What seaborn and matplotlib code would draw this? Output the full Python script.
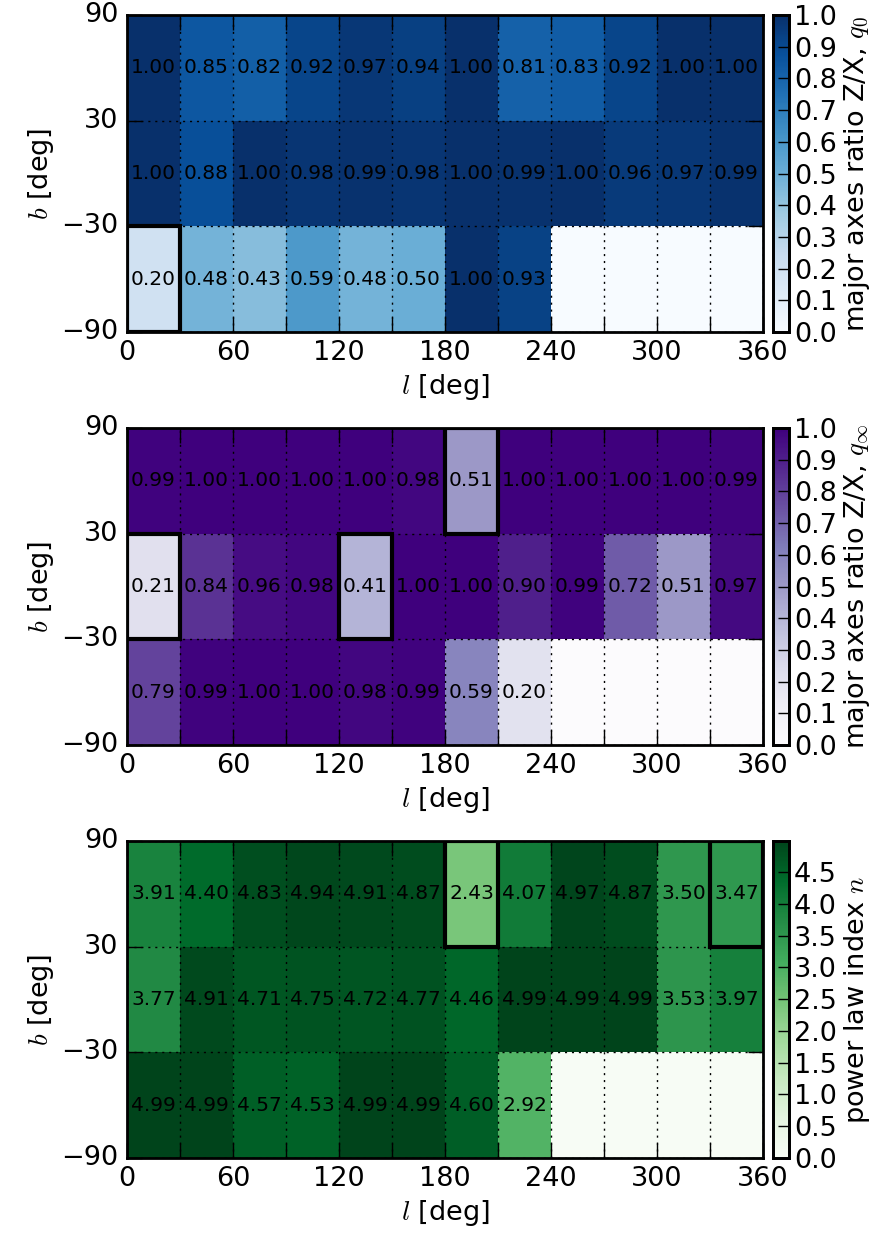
import numpy as np
import seaborn as sns
import matplotlib
matplotlib.use("Agg")
import matplotlib.pyplot as plt
from matplotlib.patches import Rectangle

# longitude bins (30 deg) and latitude bins (60 deg), rows top -> bottom
l_edges = [0, 30, 60, 90, 120, 150, 180, 210, 240, 270, 300, 330, 360]
b_edges = [90, 30, -30, -90]
l_ticklabels = ["0", "", "60", "", "120", "", "180", "", "240", "", "300", "", "360"]
b_ticklabels = ["90", "30", "\u221230", "\u221290"]

q0 = [
    [1.00, 0.85, 0.82, 0.92, 0.97, 0.94, 1.00, 0.81, 0.83, 0.92, 1.00, 1.00],
    [1.00, 0.88, 1.00, 0.98, 0.99, 0.98, 1.00, 0.99, 1.00, 0.96, 0.97, 0.99],
    [0.20, 0.48, 0.43, 0.59, 0.48, 0.50, 1.00, 0.93, None, None, None, None],
]
q_inf = [
    [0.99, 1.00, 1.00, 1.00, 1.00, 0.98, 0.51, 1.00, 1.00, 1.00, 1.00, 0.99],
    [0.21, 0.84, 0.96, 0.98, 0.41, 1.00, 1.00, 0.90, 0.99, 0.72, 0.51, 0.97],
    [0.79, 0.99, 1.00, 1.00, 0.98, 0.99, 0.59, 0.20, None, None, None, None],
]
n_index = [
    [3.91, 4.40, 4.83, 4.94, 4.91, 4.87, 2.43, 4.07, 4.97, 4.87, 3.50, 3.47],
    [3.77, 4.91, 4.71, 4.75, 4.72, 4.77, 4.46, 4.99, 4.99, 4.99, 3.53, 3.97],
    [4.99, 4.99, 4.57, 4.53, 4.99, 4.99, 4.60, 2.92, None, None, None, None],
]

# highlighted cells as (column, row)
hl_q0 = [(0, 2)]
hl_qinf = [(6, 0), (0, 1), (4, 1)]
hl_n = [(6, 0), (11, 0)]

panels = [
    (q0, "Blues", 1.0, np.arange(0, 1.01, 0.1), "major axes ratio Z/X, $q_0$", hl_q0),
    (q_inf, "Purples", 1.0, np.arange(0, 1.01, 0.1), "major axes ratio Z/X, $q_\\infty$", hl_qinf),
    (n_index, "Greens", 4.99, np.arange(0, 4.51, 0.5), "power law index $n$", hl_n),
]

plt.rcParams["mathtext.fontset"] = "cm"
plt.rcParams["font.family"] = ["DejaVu Sans"]

fig = plt.figure(figsize=(8.91, 12.43), dpi=100)
bottoms = [0.7329, 0.4006, 0.0684]
fs = 19.5

for (vals, cmap, vmax, cticks, clabel, hls), bot in zip(panels, bottoms):
    ax = fig.add_axes([0.1425, bot, 0.7138, 0.255])
    cax = fig.add_axes([0.8676, bot, 0.018, 0.255])
    arr = np.array([[np.nan if v is None else v for v in row] for row in vals])
    labels = np.array([["" if v is None else "%.2f" % v for v in row] for row in vals])
    sns.heatmap(np.nan_to_num(arr, nan=0.0), ax=ax, cbar_ax=cax, cmap=cmap,
                vmin=0, vmax=vmax, annot=labels, fmt="",
                annot_kws={"size": 14.5, "color": "black"})

    ax.set_xticks(range(len(l_edges)))
    ax.set_xticklabels(l_ticklabels, rotation=0)
    ax.set_yticks(range(len(b_edges)))
    ax.set_yticklabels(b_ticklabels, rotation=0)
    ax.tick_params(direction="in", length=11, width=1, labelsize=fs,
                   top=True, right=True, pad=6)
    ax.grid(True, ls=(0, (1.5, 3.5)), color="black", lw=1)
    ax.set_axisbelow(False)
    for s in ax.spines.values():
        s.set_visible(True)
        s.set_linewidth(2)
    ax.set_xlabel("$l$ [deg]", fontsize=fs)
    ax.set_ylabel("$b$ [deg]", fontsize=fs)

    for c, r in hls:
        ax.add_patch(Rectangle((c, r), 1, 1, fill=False, ec="black", lw=3, zorder=5))

    cax.set_yticks(cticks)
    cax.set_yticklabels(["%.1f" % t for t in cticks])
    cax.tick_params(direction="in", length=8, width=1, labelsize=fs)
    for s in cax.spines.values():
        s.set_visible(True)
        s.set_linewidth(2)
    cax.set_ylabel(clabel, fontsize=fs)

fig.savefig("out.png", dpi=100)
